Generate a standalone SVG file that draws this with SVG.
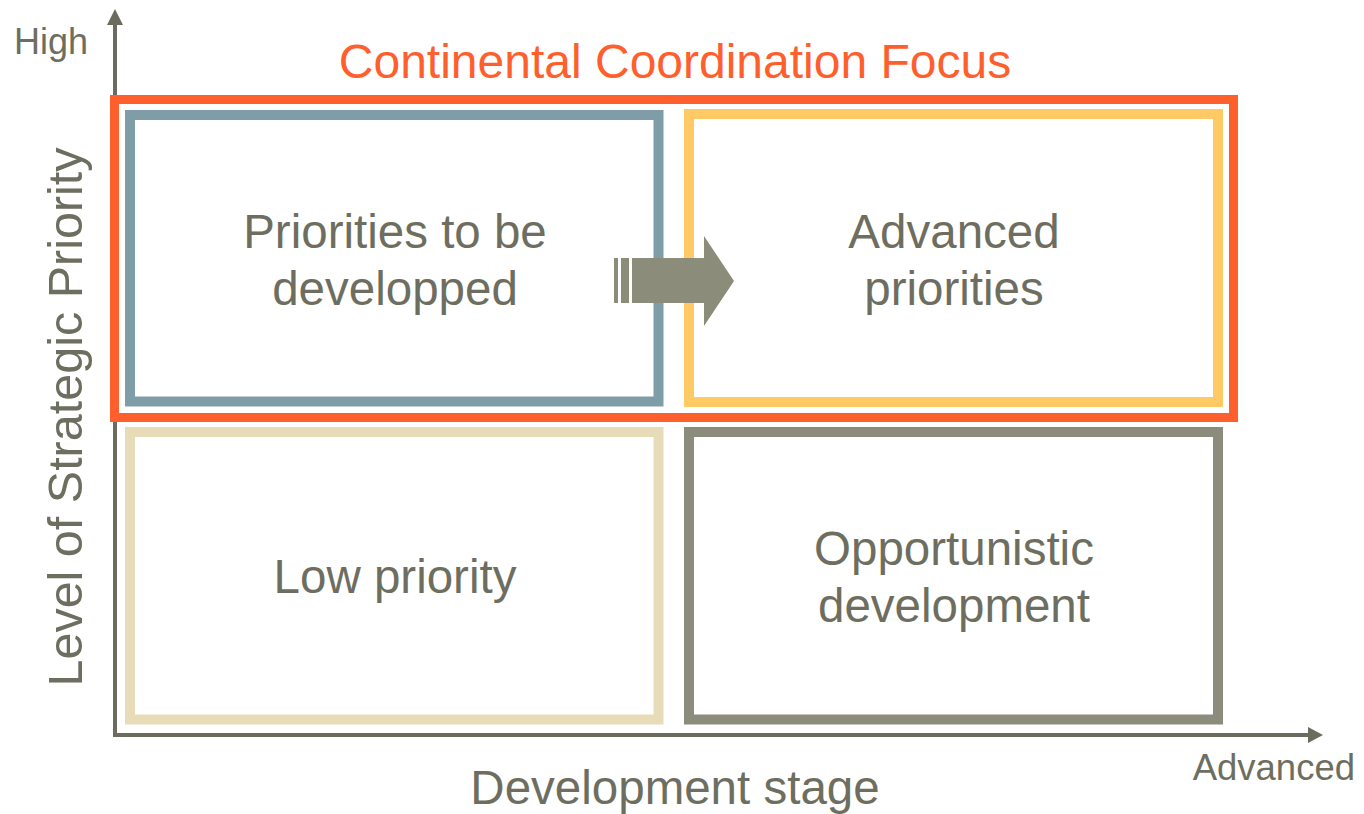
<svg xmlns="http://www.w3.org/2000/svg" width="1364" height="814" viewBox="0 0 1364 814">
<defs>
<style>
text{font-family:"Liberation Sans",Arial,sans-serif;fill:#6E6E60;}
.lbl{font-size:47.5px;text-anchor:middle;}
.box{fill:none;stroke-width:10;}
.axis{stroke:#6B6B5E;stroke-width:4;fill:none;}
</style>
</defs>
<rect width="1364" height="814" fill="#FFFFFF"/>
<g id="connectors">
<line class="axis" x1="115" y1="737" x2="115" y2="22"/>
<polygon points="107,25 115,9 123,25" fill="#6B6B5E"/>
<line class="axis" x1="113" y1="735" x2="1310" y2="735"/>
<polygon points="1308,727 1323,735 1308,743" fill="#6B6B5E"/>
</g>
<g id="focus">
<rect x="114.5" y="99.5" width="1119" height="318" fill="none" stroke="#FF5F2D" stroke-width="9"/>
<text x="675" y="78" font-size="48" text-anchor="middle" style="fill:#FF5F2D">Continental Coordination Focus</text>
</g>
<g id="q-top-left">
<rect class="box" x="130" y="115" width="528.5" height="286.5" stroke="#7F9DA6"/>
<text class="lbl" x="395" y="248">Priorities to be</text>
<text class="lbl" x="395" y="305">developped</text>
</g>
<g id="q-top-right">
<rect class="box" x="689" y="114" width="529" height="288" stroke="#FFC966"/>
<text class="lbl" x="954" y="248">Advanced</text>
<text class="lbl" x="954" y="305">priorities</text>
</g>
<g id="q-bottom-left">
<rect class="box" x="130" y="432" width="528.5" height="287.5" stroke="#E8DCB8"/>
<text class="lbl" x="395" y="593">Low priority</text>
</g>
<g id="q-bottom-right">
<rect class="box" x="689" y="432" width="529" height="287.5" stroke="#8C8C7C"/>
<text class="lbl" x="954" y="565">Opportunistic</text>
<text class="lbl" x="954" y="622">development</text>
</g>
<g id="arrow">
<rect x="614" y="258" width="4" height="45" fill="#8C8C7B"/>
<rect x="621" y="258" width="8" height="45" fill="#8C8C7B"/>
<polygon points="632,258 704,258 704,236 734,281 704,326 704,303 632,303" fill="#8C8C7B"/>
</g>
<g id="axis-labels">
<text x="14" y="54" font-size="36">High</text>
<text x="1355" y="780" font-size="36.5" text-anchor="end">Advanced</text>
<text x="675" y="804" font-size="47.5" text-anchor="middle">Development stage</text>
<text transform="translate(82,417) rotate(-90)" font-size="48.5" text-anchor="middle">Level of Strategic Priority</text>
</g>
</svg>
